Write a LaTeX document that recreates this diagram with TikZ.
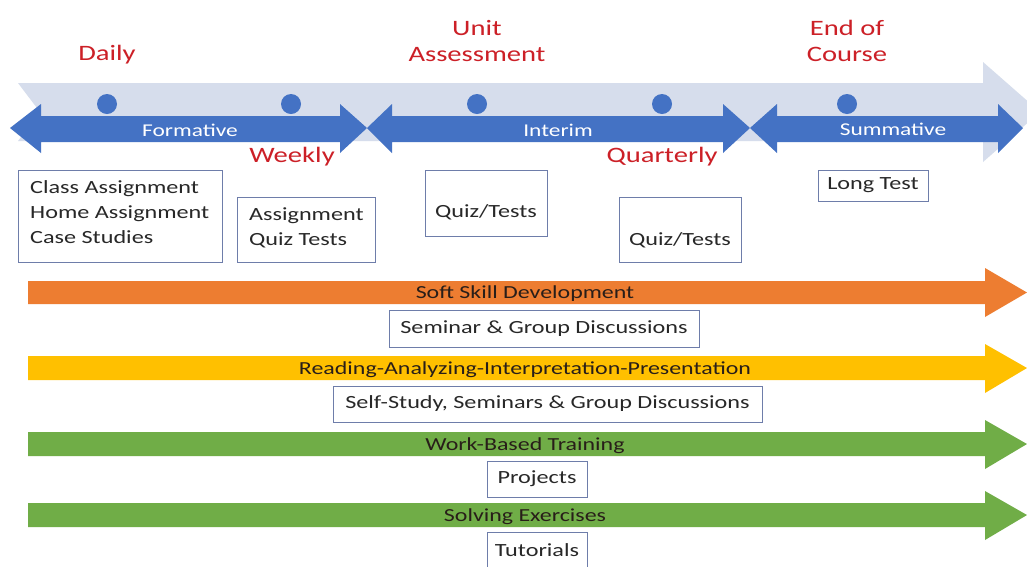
\documentclass[tikz,border=0pt]{standalone}
\usepackage{fontspec}
\setmainfont{Carlito}[FakeStretch=1.3]
\definecolor{lightband}{RGB}{214,221,236}
\definecolor{bluearr}{RGB}{68,114,196}
\definecolor{redlab}{RGB}{204,32,39}
\definecolor{boxline}{RGB}{110,125,170}
\definecolor{orangearr}{RGB}{237,125,49}
\definecolor{yellowarr}{RGB}{255,192,0}
\definecolor{greenarr}{RGB}{112,173,71}
\definecolor{bartext}{RGB}{40,30,25}
\definecolor{boxtext}{RGB}{40,40,40}
\begin{document}
\begin{tikzpicture}[x=1pt,y=-1pt,
  redlabel/.style={text=redlab,font=\fontsize{22}{26}\selectfont,align=center,inner sep=0pt},
  whitelabel/.style={text=white,font=\fontsize{18}{20}\selectfont,inner sep=0pt},
  boxfont/.style={text=boxtext,font=\fontsize{18.6}{25}\selectfont},
  infobox/.style={draw=boxline,line width=0.8pt,fill=white,boxfont,inner sep=0pt},
  bartxt/.style={text=bartext,font=\fontsize{18.4}{20}\selectfont,inner sep=0pt},
  dot/.style={circle,fill=bluearr,minimum size=20pt,inner sep=0pt}]
\useasboundingbox (0,0) rectangle (1027,566);
\fill[white] (0,0) rectangle (1027,566);
% light background arrow
\fill[lightband] (18,83) -- (983,83) -- (983,62) -- (1040,112) -- (983,162) -- (983,141) -- (18,141) -- (40,112) -- cycle;
% dots
\node[dot] (d1) at (107,104) {};
\node[dot] (d2) at (291,104) {};
\node[dot] (d3) at (477,104) {};
\node[dot] (d4) at (662,104) {};
\node[dot] (d5) at (847,104) {};
% blue double arrows
\fill[bluearr] (10,128) -- (41,104) -- (41,116) -- (340,116) -- (340,104) -- (367,128) -- (340,153) -- (340,142) -- (41,142) -- (41,153) -- cycle;
\fill[bluearr] (367,128) -- (392,104) -- (392,116) -- (723,116) -- (723,104) -- (750,128) -- (723,153) -- (723,142) -- (392,142) -- (392,153) -- cycle;
\fill[bluearr] (750,128) -- (777,104) -- (777,116) -- (998,116) -- (998,104) -- (1023,128) -- (998,153) -- (998,142) -- (777,142) -- (777,153) -- cycle;
\node[whitelabel] (form) at (190,130) {Formative};
\node[whitelabel] (inter) at (558,130) {Interim};
\node[whitelabel] (summ) at (893,129) {Summative};
% red labels
\node[redlabel] (daily) at (107,55) {Daily};
\node[redlabel] (unit) at (477,41) {Unit\\Assessment};
\node[redlabel] (endc) at (847,41) {End of\\Course};
\node[redlabel] (weekly) at (292,157) {Weekly};
\node[redlabel] (quart) at (662,157) {Quarterly};
% boxes
\node[infobox,minimum width=204pt,minimum height=92pt] (b1) at (120,216) {};
\node[anchor=west,boxfont,align=left,inner sep=0pt] (b1t) at (30,212) {Class Assignment\\Home Assignment\\Case Studies};
\node[infobox,minimum width=138pt,minimum height=65pt] (b2) at (306,229.5) {};
\node[anchor=west,boxfont,align=left,inner sep=0pt] (b2t) at (249,228) {Assignment\\Quiz Tests};
\node[infobox,minimum width=122pt,minimum height=66pt] (b3) at (486,203) {};
\node[boxfont,inner sep=0pt] (b3t) at (486,212) {Quiz/Tests};
\node[infobox,minimum width=122pt,minimum height=65pt] (b4) at (680,229.5) {};
\node[boxfont,inner sep=0pt] (b4t) at (680,240) {Quiz/Tests};
\node[infobox,minimum width=110pt,minimum height=31pt] (b5) at (873,185.5) {Long Test};
% horizontal arrows
\fill[orangearr] (28,281) -- (985,281) -- (985,268) -- (1027,292.5) -- (985,317) -- (985,304) -- (28,304) -- cycle;
\node[bartxt] (soft) at (525,294) {Soft Skill Development};
\node[infobox,minimum width=310pt,minimum height=37pt] (sem) at (544,328.5) {Seminar \& Group Discussions};
\fill[yellowarr] (28,356) -- (985,356) -- (985,344) -- (1027,368) -- (985,393) -- (985,380) -- (28,380) -- cycle;
\node[bartxt] (read) at (525,369.5) {Reading-Analyzing-Interpretation-Presentation};
\node[infobox,minimum width=429pt,minimum height=36pt] (self) at (547.5,404) {Self-Study, Seminars \& Group Discussions};
\fill[greenarr] (28,432) -- (985,432) -- (985,420) -- (1027,444) -- (985,469) -- (985,456) -- (28,456) -- cycle;
\node[bartxt] (work) at (525,445.5) {Work-Based Training};
\node[infobox,minimum width=100pt,minimum height=36pt] (proj) at (537,479) {Projects};
\fill[greenarr] (28,503) -- (985,503) -- (985,491) -- (1027,515) -- (985,540) -- (985,527) -- (28,527) -- cycle;
\node[bartxt] (solv) at (525,516.5) {Solving Exercises};
\node[infobox,minimum width=100pt,minimum height=36pt] (tut) at (537,550) {Tutorials};
\end{tikzpicture}
\end{document}
